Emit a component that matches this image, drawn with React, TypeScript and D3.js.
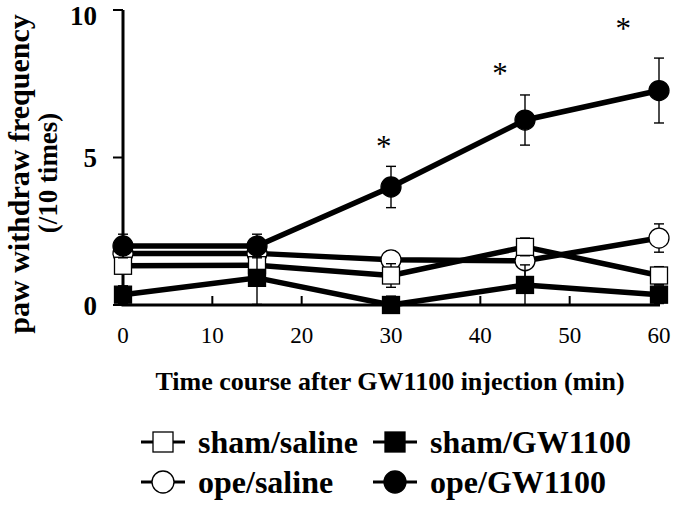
import React from "react";
import * as d3 from "d3";

// time points (min)
const times = [0, 15, 30, 45, 60];

// series means and error bars
const shamSaline = [1.33, 1.35, 1.0, 1.97, 1.0];
const shamSalineErr = [0.7, 0.3, 0.4, 0.3, 0.3];
const opeSaline = [1.75, 1.75, 1.53, 1.5, 2.27];
const opeSalineErr = [0.3, 0.3, 0.3, 0.65, 0.48];
const shamGW = [0.35, 0.92, 0.0, 0.68, 0.35];
const shamGWErr = [0.3, 0.9, 0.3, 0.68, 0.3];
const opeGW = [2.0, 2.0, 4.0, 6.27, 7.27];
const opeGWErr = [0.4, 0.4, 0.7, 0.85, 1.1];

// significance marks
const starX = [29.2, 42.2, 56.0];
const starY = [5.5, 7.97, 9.5];

const xTicks = [0, 10, 20, 30, 40, 50, 60];
const yTicks = [0, 5, 10];

const FONT = "'Liberation Serif', 'Times New Roman', serif";

type Series = {
  name: string;
  values: number[];
  errs: number[];
  shape: "square" | "circle";
  filled: boolean;
};

// draw order: later ones sit on top
const series: Series[] = [
  { name: "ope/saline", values: opeSaline, errs: opeSalineErr, shape: "circle", filled: false },
  { name: "sham/saline", values: shamSaline, errs: shamSalineErr, shape: "square", filled: false },
  { name: "sham/GW1100", values: shamGW, errs: shamGWErr, shape: "square", filled: true },
  { name: "ope/GW1100", values: opeGW, errs: opeGWErr, shape: "circle", filled: true },
];

// legend reads left-to-right, top-to-bottom
const legendOrder = ["sham/saline", "sham/GW1100", "ope/saline", "ope/GW1100"];

function Marker({ cx, cy, shape, filled, size }: { cx: number; cy: number; shape: string; filled: boolean; size: number }) {
  const fill = filled ? "#000" : "#fff";
  if (shape === "circle") {
    return <circle cx={cx} cy={cy} r={size / 2} fill={fill} stroke="#000" strokeWidth={1.3} />;
  }
  return (
    <rect x={cx - size / 2} y={cy - size / 2} width={size} height={size} fill={fill} stroke="#000" strokeWidth={1.3} />
  );
}

export default function App() {
  const width = 675;
  const height = 507;
  const x = d3.scaleLinear().domain([0, 60]).range([123, 659]);
  const y = d3.scaleLinear().domain([0, 10]).range([305, 10]);

  const line = d3
    .line<number>()
    .x((_, i) => x(times[i]))
    .y((d) => y(d));

  return (
    <svg
      width={width}
      height={height}
      style={{ position: "absolute", left: 0, top: 0, background: "#fff" }}
      fontFamily={FONT}
    >
      {/* axes */}
      <line x1={x(0)} x2={x(0)} y1={y(10)} y2={y(0)} stroke="#000" strokeWidth={3} />
      <line x1={x(0) - 1.5} x2={x(60) + 1} y1={y(0)} y2={y(0)} stroke="#000" strokeWidth={3} />
      {yTicks.map((t) => (
        <g key={"y" + t}>
          <line x1={x(0) - 10} x2={x(0)} y1={y(t)} y2={y(t)} stroke="#000" strokeWidth={2} />
          <text x={97} y={Math.max(y(t) + 9.5, 25)} textAnchor="end" fontSize={27} fontWeight="bold">
            {t}
          </text>
        </g>
      ))}
      {xTicks.map((t) => (
        <g key={"x" + t}>
          <line x1={x(t)} x2={x(t)} y1={y(0)} y2={y(0) - 9} stroke="#000" strokeWidth={2} />
          <text x={x(t)} y={343} textAnchor="middle" fontSize={23}>
            {t}
          </text>
        </g>
      ))}

      {/* axis titles */}
      <text x={390} y={390} textAnchor="middle" fontSize={26} fontWeight="bold">
        Time course after GW1100 injection (min)
      </text>
      <text transform="translate(29,174) rotate(-90)" textAnchor="middle" fontSize={30} fontWeight="bold">
        paw withdraw frequency
      </text>
      <text transform="translate(57,173) rotate(-90)" textAnchor="middle" fontSize={27} fontWeight="bold">
        (/10 times)
      </text>

      {/* data */}
      {series.map((s) => (
        <g key={s.name}>
          {s.values.map((v, i) => (
            <g key={i} stroke="#000" strokeWidth={1.4}>
              <line x1={x(times[i])} x2={x(times[i])} y1={y(v + s.errs[i])} y2={y(Math.max(0, v - s.errs[i]))} />
              <line x1={x(times[i]) - 5} x2={x(times[i]) + 5} y1={y(v + s.errs[i])} y2={y(v + s.errs[i])} />
              {v - s.errs[i] > 0 && (
                <line x1={x(times[i]) - 5} x2={x(times[i]) + 5} y1={y(v - s.errs[i])} y2={y(v - s.errs[i])} />
              )}
            </g>
          ))}
          <path d={line(s.values) ?? ""} fill="none" stroke="#000" strokeWidth={5.5} strokeLinejoin="round" />
          {s.values.map((v, i) => (
            <Marker
              key={i}
              cx={x(times[i])}
              cy={y(v)}
              shape={s.shape}
              filled={s.filled}
              size={s.shape === "circle" ? 20 : 17}
            />
          ))}
        </g>
      ))}

      {/* asterisks */}
      {starX.map((sx, i) => (
        <text key={i} x={x(sx)} y={y(starY[i]) + 14} textAnchor="middle" fontSize={31}>
          *
        </text>
      ))}

      {/* legend */}
      {legendOrder.map((name, i) => {
        const s = series.find((d) => d.name === name)!;
        const col = i % 2;
        const row = Math.floor(i / 2);
        const mx = col === 0 ? 163 : 395;
        const my = row === 0 ? 442 : 482;
        return (
          <g key={name}>
            <line x1={mx - 22} x2={mx + 22} y1={my} y2={my} stroke="#000" strokeWidth={3} />
            <Marker cx={mx} cy={my} shape={s.shape} filled={s.filled} size={s.shape === "circle" ? 22 : 20} />
            <text x={mx + 35} y={my + 11} fontSize={32} fontWeight="bold">
              {name}
            </text>
          </g>
        );
      })}
    </svg>
  );
}
